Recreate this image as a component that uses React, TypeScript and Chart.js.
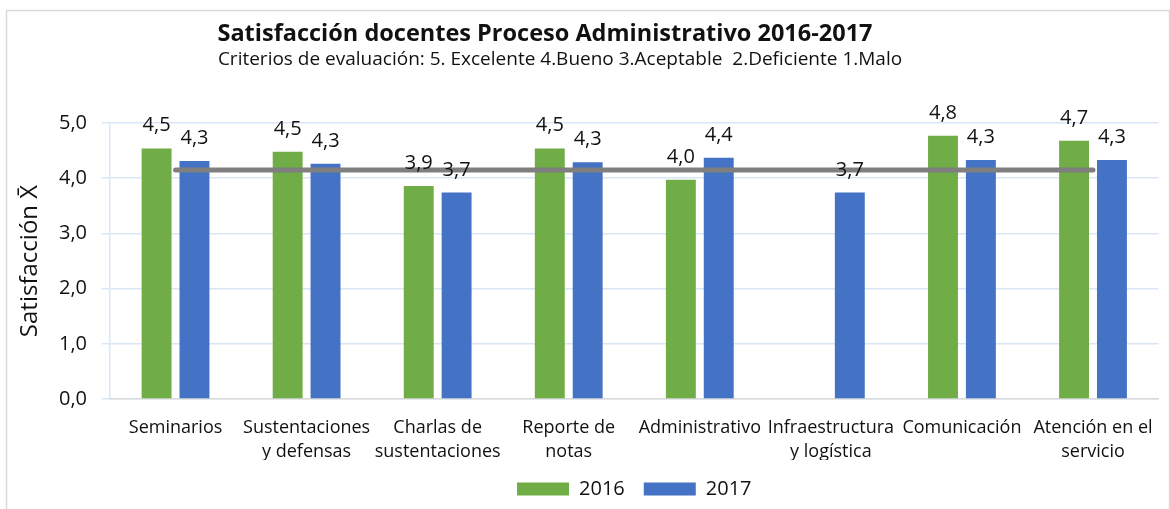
import { useEffect, useRef } from "react";
import { Chart, registerables } from "chart.js";

Chart.register(...registerables);

const categories: string[][] = [
  ["Seminarios"],
  ["Sustentaciones", "y defensas"],
  ["Charlas de", "sustentaciones"],
  ["Reporte de", "notas"],
  ["Administrativo"],
  ["Infraestructura", "y logística"],
  ["Comunicación"],
  ["Atención en el", "servicio"],
];
const seriesNames = ["2016", "2017"];
const values2016: (number | null)[] = [4.54, 4.48, 3.86, 4.54, 3.97, null, 4.77, 4.68];
const values2017: (number | null)[] = [4.31, 4.26, 3.74, 4.29, 4.37, 3.74, 4.33, 4.33];
const averageLine = [4.15, 4.15, 4.15, 4.15, 4.15, 4.15, 4.15, 4.15];
const yMin = 0;
const yMax = 5;
const yStep = 1;
const titleText = "Satisfacción docentes Proceso Administrativo 2016-2017";
const subtitleText = "Criterios de evaluación: 5. Excelente 4.Bueno 3.Aceptable  2.Deficiente 1.Malo";
const yTitleText = "Satisfacción X̄";

const FONT = "'Open Sans', 'Noto Sans', sans-serif";
const TEXT = "#111111";
const GREEN = "#70AD47";
const BLUE = "#4472C4";

const fmt = (v: number) => v.toFixed(1).replace(".", ",");

const framePlugin = {
  id: "frame",
  beforeDraw(chart: any) {
    const ctx = chart.ctx;
    ctx.save();
    ctx.fillStyle = "#ffffff";
    ctx.fillRect(0, 0, chart.width, chart.height);
    ctx.strokeStyle = "#D9D9D9";
    ctx.lineWidth = 1.5;
    ctx.strokeRect(6.5, 10.5, 1163, 530);
    ctx.restore();
  },
  afterDraw(chart: any) {
    const ctx = chart.ctx;
    ctx.save();
    ctx.fillStyle = TEXT;
    ctx.textAlign = "center";
    ctx.textBaseline = "alphabetic";
    ctx.font = `bold 23.5px ${FONT}`;
    ctx.fillText(titleText, 545, 41);
    ctx.font = `19px ${FONT}`;
    ctx.fillText(subtitleText, 560, 65);
    ctx.restore();
  },
};

const labelPlugin = {
  id: "barLabels",
  afterDatasetsDraw(chart: any) {
    const ctx = chart.ctx;
    ctx.save();
    ctx.fillStyle = TEXT;
    ctx.font = `20px ${FONT}`;
    ctx.textAlign = "center";
    ctx.textBaseline = "alphabetic";
    chart.data.datasets.forEach((ds: any, di: number) => {
      if (ds.type === "line") return;
      const meta = chart.getDatasetMeta(di);
      meta.data.forEach((el: any, i: number) => {
        const v = ds.data[i];
        if (v === null || v === undefined) return;
        ctx.fillText(fmt(v), el.x, el.y - 17);
      });
    });
    ctx.restore();
  },
};

export default function App() {
  const ref = useRef<HTMLCanvasElement>(null);
  useEffect(() => {
    if (!ref.current) return;
    Chart.defaults.font.family = FONT;
    const chart = new Chart(ref.current, {
      type: "bar",
      data: {
        labels: categories,
        datasets: [
          {
            type: "line",
            label: "Promedio",
            data: averageLine,
            borderColor: "#7F7F7F",
            borderWidth: 5,
            borderCapStyle: "round",
            pointRadius: 0,
            order: 0,
          } as any,
          {
            label: seriesNames[0],
            data: values2016,
            backgroundColor: GREEN,
            categoryPercentage: 0.578,
            barPercentage: 0.79,
            order: 1,
          },
          {
            label: seriesNames[1],
            data: values2017,
            backgroundColor: BLUE,
            categoryPercentage: 0.578,
            barPercentage: 0.79,
            order: 1,
          },
        ],
      },
      options: {
        animation: false,
        responsive: false,
        devicePixelRatio: 1,
        layout: { padding: { top: 123, left: 0, right: 7, bottom: 0 } },
        plugins: {
          legend: {
            position: "bottom",
            fullSize: false,
            labels: {
              boxWidth: 52,
              boxHeight: 13,
              padding: 19,
              color: TEXT,
              font: { size: 20, family: FONT },
              filter: (item: any) => item.text !== "Promedio",
            },
          },
          tooltip: { enabled: false },
          title: { display: false },
        },
        scales: {
          x: {
            grid: { display: false, drawTicks: false },
            border: { display: true, color: "#D9D9D9", width: 1.5 },
            ticks: {
              color: TEXT,
              padding: 17,
              maxRotation: 0,
              autoSkip: false,
              font: { size: 18, family: FONT, lineHeight: 1.34 },
            },
            afterFit: (s: any) => {
              s.height = 61;
            },
          },
          y: {
            min: yMin,
            max: yMax,
            grid: { color: "#D9E6F5", lineWidth: 1.5, tickLength: 8 },
            border: { display: true, color: "#D9E6F5", width: 1.5 },
            ticks: {
              stepSize: yStep,
              padding: 15,
              color: TEXT,
              font: { size: 20, family: FONT },
              callback: (v: any) => fmt(Number(v)),
            },
            title: {
              display: true,
              text: yTitleText,
              color: TEXT,
              font: { size: 24, family: FONT },
              padding: { top: 16, bottom: 0 },
            },
            afterFit: (s: any) => {
              s.width = 110;
            },
          },
        },
      },
      plugins: [framePlugin, labelPlugin],
    });
    return () => chart.destroy();
  }, []);
  return (
    <div style={{ position: "absolute", left: 0, top: 0, width: 1170, height: 509 }}>
      <canvas ref={ref} width={1170} height={509} style={{ display: "block", width: 1170, height: 509 }} />
    </div>
  );
}
